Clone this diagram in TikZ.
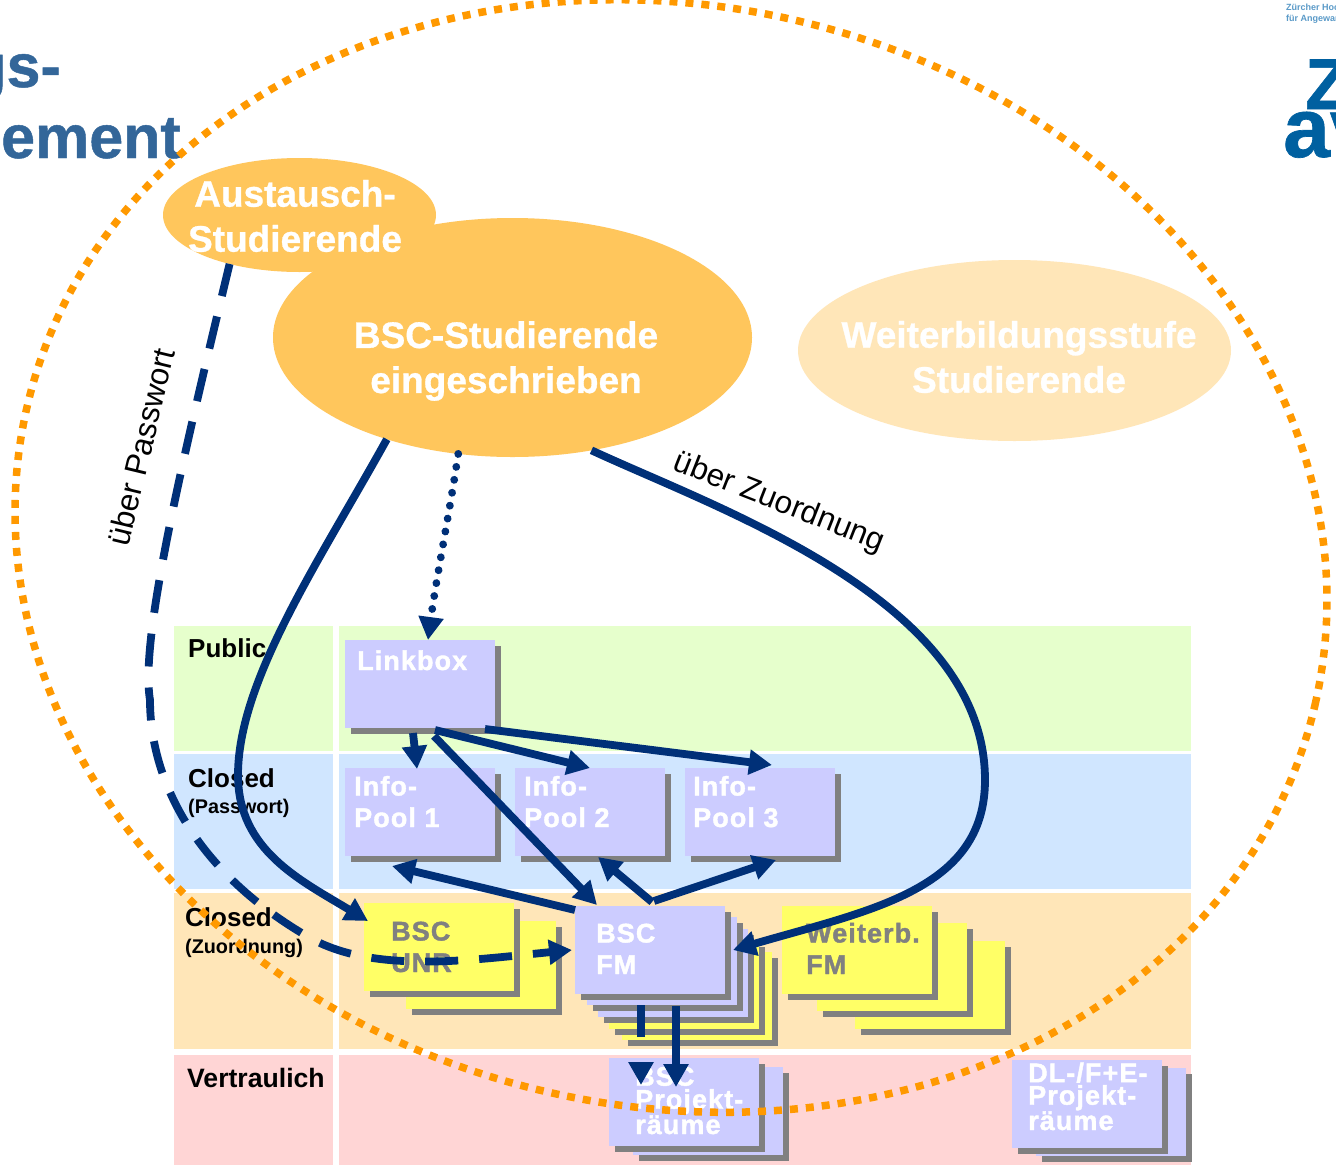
\documentclass[tikz,border=0pt]{standalone}
\usepackage{fontspec}
\setmainfont{Liberation Sans}
\newfontfamily\boxfont[LetterSpace=4,FakeBold=1.5]{Liberation Sans}
\newfontfamily\headfont[FakeBold=0.8]{Liberation Sans}
\usetikzlibrary{arrows.meta,shapes.geometric,shadows}
\definecolor{navy}{HTML}{003078}
\definecolor{ringc}{HTML}{FF9900}
\definecolor{lav}{HTML}{CCCCFF}
\definecolor{yel}{HTML}{FFFF66}
\definecolor{shad}{HTML}{808080}
\definecolor{bandgreen}{HTML}{E6FFCC}
\definecolor{bandblue}{HTML}{D0E6FF}
\definecolor{bandorange}{HTML}{FFE6B8}
\definecolor{bandred}{HTML}{FFD5D5}
\definecolor{ellstrong}{HTML}{FFC65C}
\definecolor{titlec}{HTML}{336699}
\definecolor{logoc}{HTML}{0060A0}
\definecolor{logol}{HTML}{5A9AC8}
\tikzset{
  band/.style={inner sep=0,outer sep=0,minimum width=#1},
  sbox/.style={inner sep=0,outer sep=0,minimum width=150pt,minimum height=88pt,fill=#1,
     general shadow={shadow xshift=6pt,shadow yshift=-6pt,fill=shad}},
  lavbox/.style={sbox=lav},
  yelbox/.style={sbox=yel},
  blob/.style={ellipse,inner sep=0,outer sep=0,fill=#1},
  bigtxt/.style={text=white,align=center,inner sep=0,font=\fontsize{37}{45}\selectfont\headfont\bfseries},
  boxtxt/.style={text=#1,align=left,inner sep=0,anchor=base west,font=\fontsize{27}{31.5}\selectfont\boxfont\bfseries},
  tiertxt/.style={text=black,inner sep=0,anchor=base west,font=\fontsize{26}{30}\selectfont\bfseries},
  tiersmall/.style={text=black,inner sep=0,anchor=base west,font=\fontsize{19.8}{24}\selectfont\bfseries},
  linktxt/.style={text=black,inner sep=0,font=\fontsize{31.5}{36}\selectfont},
  conn/.style={draw=navy,line width=7.8pt,-{Triangle[length=23pt,width=24pt]}},
}
\begin{document}
\begin{tikzpicture}[x=1pt,y=-1pt]
\clip (0,0) rectangle (1336,1165);
\fill[white] (0,0) rectangle (1336,1165);

% title fragment and logo fragment
\node[text=titlec,anchor=base east,inner sep=0,font=\fontsize{61}{61}\selectfont\headfont\bfseries] (t1) at (61,87) {gs-};
\node[text=titlec,anchor=base east,inner sep=0,font=\fontsize{61}{61}\selectfont\headfont\bfseries] (t2) at (181,158) {ement};
\node[text=logol,anchor=base west,inner sep=0,font=\fontsize{9}{9}\selectfont\bfseries] (l1) at (1286,10) {Zürcher Hochschule};
\node[text=logol,anchor=base west,inner sep=0,font=\fontsize{9}{9}\selectfont\bfseries] (l2) at (1286,21) {für Angewandte};
\node[text=logoc,anchor=base west,inner sep=0,font=\fontsize{72}{72}\selectfont\headfont\bfseries] (l3) at (1305,109) {Z};
\node[text=logoc,anchor=base west,inner sep=0,font=\fontsize{84}{84}\selectfont\headfont\bfseries] (l4) at (1283,157) {av};

% tier bands
\node[band=159pt,minimum height=125pt,fill=bandgreen,anchor=north west] (b1a) at (174,626) {};
\node[band=852pt,minimum height=125pt,fill=bandgreen,anchor=north west] (b1b) at (339,626) {};
\node[band=159pt,minimum height=135pt,fill=bandblue,anchor=north west] (b2a) at (174,754) {};
\node[band=852pt,minimum height=135pt,fill=bandblue,anchor=north west] (b2b) at (339,754) {};
\node[band=159pt,minimum height=156pt,fill=bandorange,anchor=north west] (b3a) at (174,893) {};
\node[band=852pt,minimum height=156pt,fill=bandorange,anchor=north west] (b3b) at (339,893) {};
\node[band=159pt,minimum height=110pt,fill=bandred,anchor=north west] (b4a) at (174,1055) {};
\node[band=852pt,minimum height=110pt,fill=bandred,anchor=north west] (b4b) at (339,1055) {};

\node[tiertxt] (tpub) at (188,657) {Public};
\node[tiertxt] (tclo1) at (188,787) {Closed};
\node[tiersmall] (tpas) at (188,813) {(Passwort)};
\node[tiertxt] (tclo2) at (185,926) {Closed};
\node[tiersmall] (tzuo) at (185,953) {(Zuordnung)};
\node[tiertxt,font=\fontsize{26.6}{30}\selectfont\bfseries] (tver) at (187,1087) {Vertraulich};

% ellipses
\node[blob=ellstrong,minimum width=273pt,minimum height=114pt] (aust) at (299.5,215) {};
\node[blob=ellstrong,minimum width=479pt,minimum height=239pt] (bsc) at (512.5,337.5) {};
\node[blob=bandorange,minimum width=433pt,minimum height=181pt] (weit) at (1014.5,350.5) {};
\node[bigtxt] (austt) at (295,216) {Austausch-\\Studierende};
\node[bigtxt] (bsct) at (506,361) {BSC-Studierende\\eingeschrieben};
\node[bigtxt] (weitt) at (1019,357) {Weiterbildungsstufe\\Studierende};

% boxes
\node[lavbox] (link) at (420,684) {};
\node[boxtxt=white] at (357,670) {Linkbox};
\node[lavbox] (info1) at (420,812) {};
\node[boxtxt=white] at (354,827) {Info-\\Pool 1};
\node[lavbox] (info2) at (590,812) {};
\node[boxtxt=white] at (524,827) {Info-\\Pool 2};
\node[lavbox] (info3) at (760,812) {};
\node[boxtxt=white] at (693,827) {Info-\\Pool 3};

\node[yelbox] (unr2) at (481,965) {};
\node[yelbox] (unr) at (439,947) {};
\node[boxtxt=shad] at (391,972) {BSC\\UNR};

\node[yelbox] (fm5) at (697,996) {};
\node[yelbox] (fm4) at (684,985) {};
\node[lavbox] (fm3) at (673,973) {};
\node[lavbox] (fm2) at (662,961) {};
\node[lavbox] (fm) at (650,950) {};
\node[boxtxt=white] at (596,974) {BSC\\FM};

\node[yelbox] (wb3) at (930,985) {};
\node[yelbox] (wb2) at (892,967) {};
\node[yelbox] (wb) at (857,950) {};
\node[boxtxt=shad] at (806,974) {Weiterb.\\FM};

\node[lavbox] (prj2) at (708,1111) {};
\node[lavbox] (prj) at (684,1102) {};
\node[boxtxt=white,font=\fontsize{27}{23}\selectfont\boxfont\bfseries] at (635,1134) {BSC\\Projekt-\\räume};

\node[lavbox] (dl2) at (1111,1112) {};
\node[lavbox] (dl) at (1087,1104) {};
\node[boxtxt=white,font=\fontsize{27}{22.5}\selectfont\boxfont\bfseries] at (1028,1130) {DL-/F+E-\\Projekt-\\räume};

% dotted ring
\node[ellipse,draw=ringc,line width=7.5pt,dash pattern=on 8pt off 8pt,rotate=-13,inner sep=0,outer sep=0,
      minimum width=1322pt,minimum height=1100pt] (ring) at (671,556) {};

% connectors
\draw[conn,dash pattern=on 33pt off 21pt] (aust.215.5) .. controls (180,470) and (140,640) .. (150,700)
   .. controls (150,780) and (195,870) .. (305,935)
   .. controls (370,975) and (470,960) .. ([xshift=-3pt]fm.west);
\draw[conn] (bsc.219) .. controls (320,560) and (238,680) .. (238,775)
   .. controls (238,850) and (300,880) .. ([xshift=4pt,yshift=-18pt]unr.north west);
\draw[conn] (bsc.-55.4) .. controls (720,510) and (985,600) .. (985,780)
   .. controls (985,890) and (870,910) .. ([xshift=8pt]fm.east);
\draw[conn,line cap=round,dash pattern=on 0.1pt off 13pt] (bsc.245.1) .. controls (450,510) and (436,580) .. ([xshift=8pt]link.north);
\draw[conn] ([xshift=-7pt,yshift=-5pt]link.south) -- ([xshift=-3pt,yshift=-1pt]info1.north);
\draw[conn] ([xshift=15pt,yshift=-2pt]link.south) -- (info2.north);
\draw[conn] ([xshift=65pt,yshift=-1pt]link.south) -- ([xshift=12pt,yshift=3pt]info3.north);
\draw[conn] ([xshift=14pt,yshift=-8pt]link.south) -- ([xshift=22pt,yshift=1pt]fm.north west);
\draw[conn] ([yshift=-4pt]fm.north west) -- ([xshift=-28pt,yshift=-10pt]info1.south);
\draw[conn] ([xshift=2pt,yshift=4pt]fm.north) -- ([xshift=8pt,yshift=-1pt]info2.south);
\draw[conn] ([xshift=4pt,yshift=5pt]fm.north) -- ([xshift=16pt,yshift=-4pt]info3.south);
\draw[conn,dash pattern=on 32pt off 60pt] ([xshift=-9pt,yshift=-11pt]fm.south) -- ([xshift=-43pt,yshift=-27pt]prj.north);
\draw[conn] ([xshift=26pt,yshift=-12pt]fm.south) -- ([xshift=-8pt,yshift=-29pt]prj.north);

% connector labels
\node[linktxt,rotate=76.5] (lp) at (141,447) {über Passwort};
\node[linktxt,rotate=-21.5] (lz) at (779,503) {über Zuordnung};
\end{tikzpicture}
\end{document}
